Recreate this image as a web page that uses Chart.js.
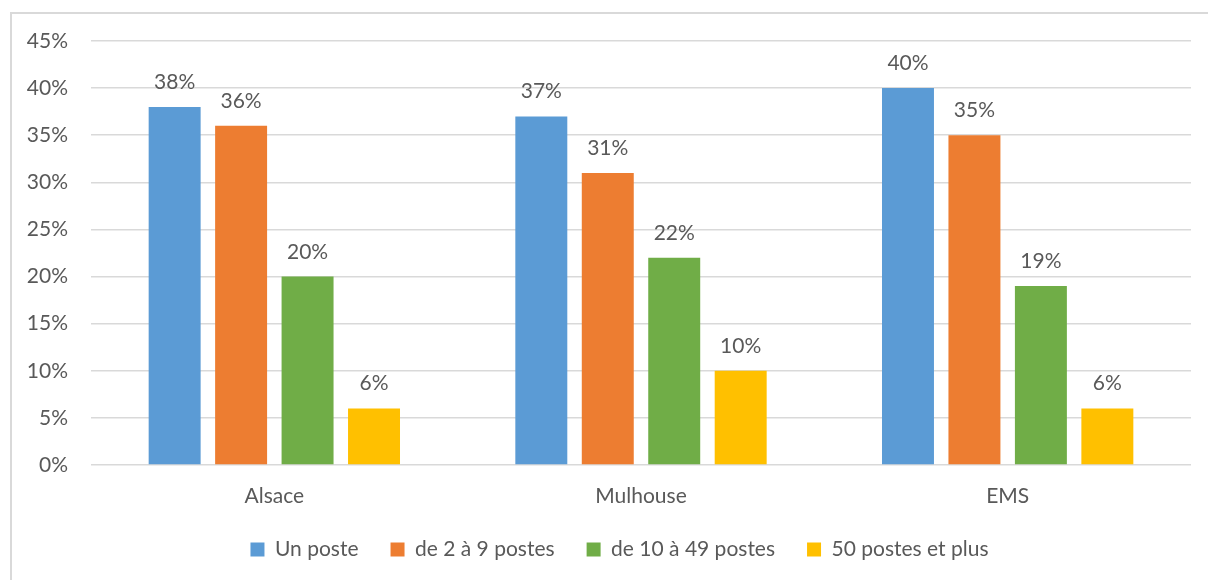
<!DOCTYPE html>
<html>
<head>
<meta charset="utf-8">
<script src="https://cdn.jsdelivr.net/npm/chart.js@4"></script>
<style>
  html, body { margin: 0; padding: 0; background: #fff; }
  #wrap { position: relative; width: 1208px; height: 580px; }
</style>
</head>
<body>
<div id="wrap"><canvas id="chart"></canvas></div>
<script>
/* Taille des établissements — barres groupées */
var categories = ['Alsace', 'Mulhouse', 'EMS'];
var unPoste    = [38, 37, 40];
var de2a9      = [36, 31, 35];
var de10a49    = [20, 22, 19];
var plus50     = [6, 10, 6];
var yTicks     = [0, 5, 10, 15, 20, 25, 30, 35, 40, 45];

var textColor = '#595959';
var fontFamily = 'Lato, "Open Sans", sans-serif';

// cadre gris autour du graphique
var framePlugin = {
    id: 'frame',
    beforeDraw: function(chart) {
        var ctx = chart.ctx;
        ctx.save();
        ctx.strokeStyle = '#D9D9D9';
        ctx.lineWidth = 2;
        ctx.strokeRect(11, 13, 1220, 600);
        ctx.restore();
    },
    // la légende d'origine est un peu décalée vers la droite
    afterLayout: function(chart) {
        if (chart.legend) { chart.legend.left += 24; chart.legend.right += 24; }
    }
};

// étiquettes de valeur au-dessus des barres
var valueLabels = {
    id: 'valueLabels',
    afterDatasetsDraw: function(chart) {
        var ctx = chart.ctx;
        ctx.save();
        ctx.font = '21px ' + fontFamily;
        ctx.fillStyle = textColor;
        ctx.textAlign = 'center';
        ctx.textBaseline = 'alphabetic';
        chart.data.datasets.forEach(function(ds, i) {
            chart.getDatasetMeta(i).data.forEach(function(bar, j) {
                ctx.fillText(ds.data[j] + '%', bar.x, bar.y - 18);
            });
        });
        ctx.restore();
    }
};

var series = [
    { label: 'Un poste',          data: unPoste, color: '#5B9BD5' },
    { label: 'de 2 à 9 postes',   data: de2a9,   color: '#ED7D31' },
    { label: 'de 10 à 49 postes', data: de10a49, color: '#70AD47' },
    { label: '50 postes et plus', data: plus50,  color: '#FFC000' }
];

new Chart(document.getElementById('chart').getContext('2d'), {
    type: 'bar',
    data: {
        labels: categories,
        datasets: series.map(function(s) {
            return {
                label: s.label,
                data: s.data,
                backgroundColor: s.color,
                borderWidth: 0,
                categoryPercentage: 0.725,
                barPercentage: 0.782
            };
        })
    },
    options: {
        responsive: true,
        maintainAspectRatio: false,
        animation: false,
        layout: { padding: { left: 0, right: 17, top: 41, bottom: 10 } },
        scales: {
            x: {
                grid: { display: false },
                border: { display: false },
                ticks: { color: textColor, font: { family: fontFamily, size: 21 }, padding: 11 },
                afterFit: function(s) { s.height = 42; }
            },
            y: {
                min: 0, max: 45,
                afterBuildTicks: function(s) { s.ticks = yTicks.map(function(v) { return { value: v }; }); },
                grid: { color: '#D9D9D9', lineWidth: 1.5, drawTicks: false },
                border: { display: false },
                ticks: {
                    color: textColor,
                    font: { family: fontFamily, size: 21 },
                    padding: 23,
                    callback: function(v) { return v + '%'; }
                },
                afterFit: function(s) { s.width = 91; }
            }
        },
        plugins: {
            legend: {
                position: 'bottom',
                labels: {
                    color: textColor,
                    font: { family: fontFamily, size: 21 },
                    boxWidth: 14, boxHeight: 14,
                    padding: 32
                }
            },
            tooltip: { enabled: false }
        }
    },
    plugins: [framePlugin, valueLabels]
});
</script>
</body>
</html>
